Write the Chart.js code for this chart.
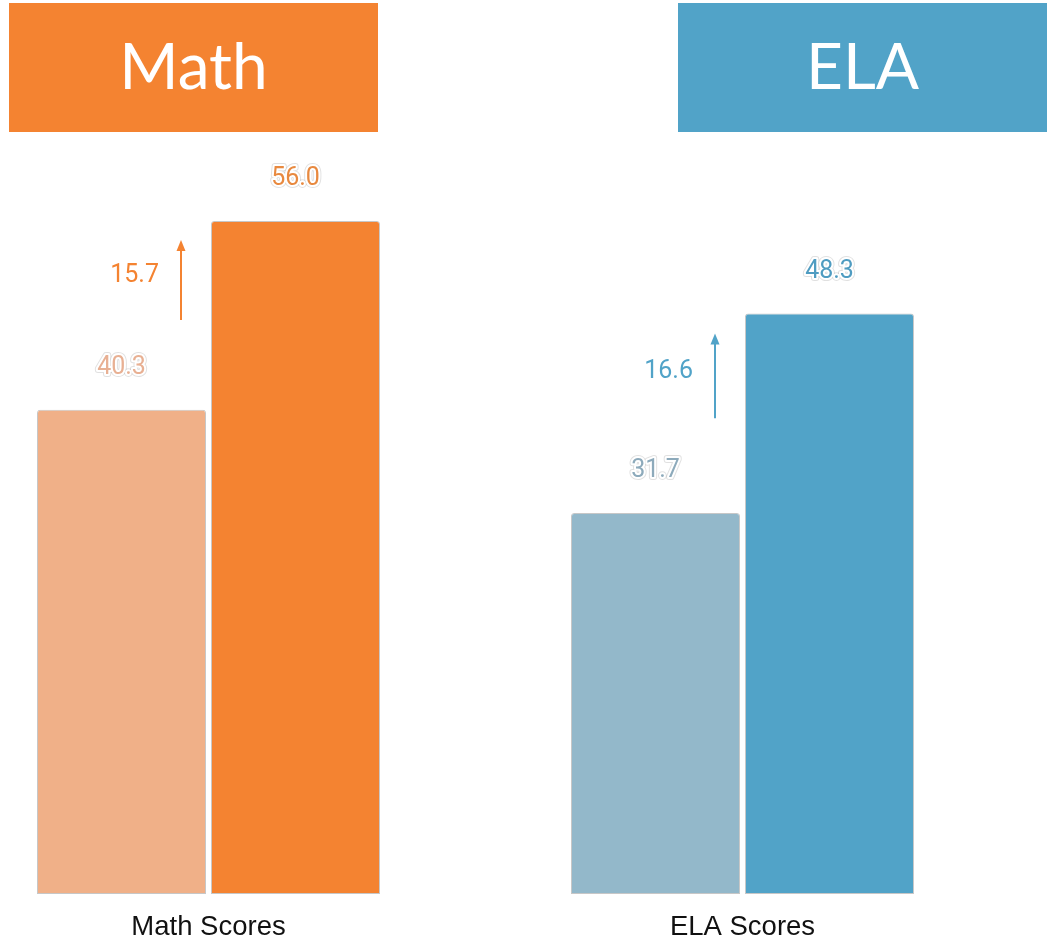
<!DOCTYPE html>
<html>
<head>
<meta charset="utf-8">
<script src="https://cdn.jsdelivr.net/npm/chart.js@4.4.1/dist/chart.umd.min.js"></script>
<style>
  html, body { margin:0; padding:0; background:#fff; }
  body { width:1050px; height:944px; position:relative; overflow:hidden; }
  .head {
    position:absolute; top:3px; width:369px; height:123px; padding-bottom:6px;
    color:#fff; font-family:'Lato', sans-serif; font-weight:400; font-size:64px;
    display:flex; align-items:center; justify-content:center;
  }
  .panel { position:absolute; top:140px; width:417px; height:816px; }
</style>
</head>
<body>
<div class="head" id="head-math" style="left:9px;background:#F48331;">Math</div>
<div class="head" id="head-ela" style="left:678px;background:#51A3C8;">ELA</div>
<div class="panel" style="left:0px;"><canvas id="mathChart"></canvas></div>
<div class="panel" style="left:534px;"><canvas id="elaChart"></canvas></div>

<script>
// ===== Datos =====
const categories   = ['Math Scores', 'ELA Scores'];
const firstScores  = [40.3, 31.7];
const secondScores = [56.0, 48.3];

// colores por materia: [claro, fuerte]
const barColors   = [['#F0B088', '#F48331'], ['#93B8CA', '#51A3C8']];
const labelColors = [['#E8B093', '#E8893F'], ['#8DAABB', '#4F9CC1']];
const arrowColors = ['#F48331', '#51A3C8'];

// ===== Plugins =====
// etiqueta de valor encima de cada barra, con halo blanco
const valueLabels = {
  id:'valueLabels',
  afterDatasetsDraw(chart){
    const {ctx} = chart;
    const idx = chart.options.subjectIdx;
    ctx.save();
    ctx.font = '25px Roboto';
    ctx.textAlign = 'center';
    ctx.textBaseline = 'middle';
    ctx.lineJoin = 'round';
    chart.data.datasets.forEach((ds, d) => {
      const bar = chart.getDatasetMeta(d).data[0];
      const txt = ds.data[0].toFixed(1);
      const y = bar.y - 42;
      ctx.strokeStyle = 'rgba(0,0,0,0.12)';
      ctx.lineWidth = 6;
      ctx.strokeText(txt, bar.x, y);
      ctx.strokeStyle = '#fff';
      ctx.lineWidth = 4;
      ctx.strokeText(txt, bar.x, y);
      ctx.fillStyle = labelColors[idx][d];
      ctx.fillText(txt, bar.x, y);
    });
    ctx.restore();
  }
};

// flecha de diferencia entre las dos barras
const diffArrow = {
  id:'diffArrow',
  afterDatasetsDraw(chart){
    const {ctx, scales:{y}} = chart;
    const idx = chart.options.subjectIdx;
    const lo = firstScores[idx], hi = secondScores[idx];
    const diff = hi - lo;
    const bar = chart.getDatasetMeta(0).data[0];
    const ax = Math.round(bar.x + bar.width / 2 - 25);
    const yTip = y.getPixelForValue(lo + diff * 0.9);
    const yBase = y.getPixelForValue(lo + diff * 0.475);
    const col = arrowColors[idx];

    ctx.save();
    ctx.strokeStyle = col;
    ctx.fillStyle = col;
    ctx.lineWidth = 2;
    ctx.beginPath();
    ctx.moveTo(ax, yBase);
    ctx.lineTo(ax, yTip + 8);
    ctx.stroke();
    ctx.beginPath();
    ctx.moveTo(ax, yTip);
    ctx.lineTo(ax - 4.5, yTip + 11);
    ctx.lineTo(ax + 4.5, yTip + 11);
    ctx.closePath();
    ctx.fill();

    ctx.font = '25px Roboto';
    ctx.textAlign = 'right';
    ctx.textBaseline = 'middle';
    ctx.fillText(diff.toFixed(1), ax - 22, y.getPixelForValue(lo + diff * 0.71));
    ctx.restore();
  }
};

function makeChart(canvasId, idx){
  const ctx = document.getElementById(canvasId).getContext('2d');
  const common = {
    borderWidth:1, borderColor:'rgba(0,0,0,0.22)',
    borderRadius:{topLeft:3, topRight:3}, borderSkipped:false,
    categoryPercentage:0.8345, barPercentage:0.9713
  };
  return new Chart(ctx, {
    type:'bar',
    data:{
      labels:[categories[idx]],
      datasets:[
        {label:'Antes', data:[firstScores[idx]], backgroundColor:barColors[idx][0], ...common},
        {label:'Después', data:[secondScores[idx]], backgroundColor:barColors[idx][1], ...common}
      ]
    },
    options:{
      subjectIdx: idx,
      responsive:false,
      animation:false,
      layout:{padding:{top:33, bottom:3, left:0, right:0}},
      plugins:{legend:{display:false}, tooltip:{enabled:false}},
      scales:{
        x:{
          grid:{display:false}, border:{display:false},
          ticks:{color:'#111', padding:9, font:{family:'"Liberation Sans", Arial, sans-serif', size:27.5}}
        },
        y:{display:false, min:0, max:60}
      }
    },
    plugins:[valueLabels, diffArrow]
  });
}

['mathChart', 'elaChart'].forEach(id => {
  const c = document.getElementById(id);
  c.width = 417; c.height = 816;
  c.style.width = '417px'; c.style.height = '816px';
});
makeChart('mathChart', 0);
makeChart('elaChart', 1);
</script>
</body>
</html>
